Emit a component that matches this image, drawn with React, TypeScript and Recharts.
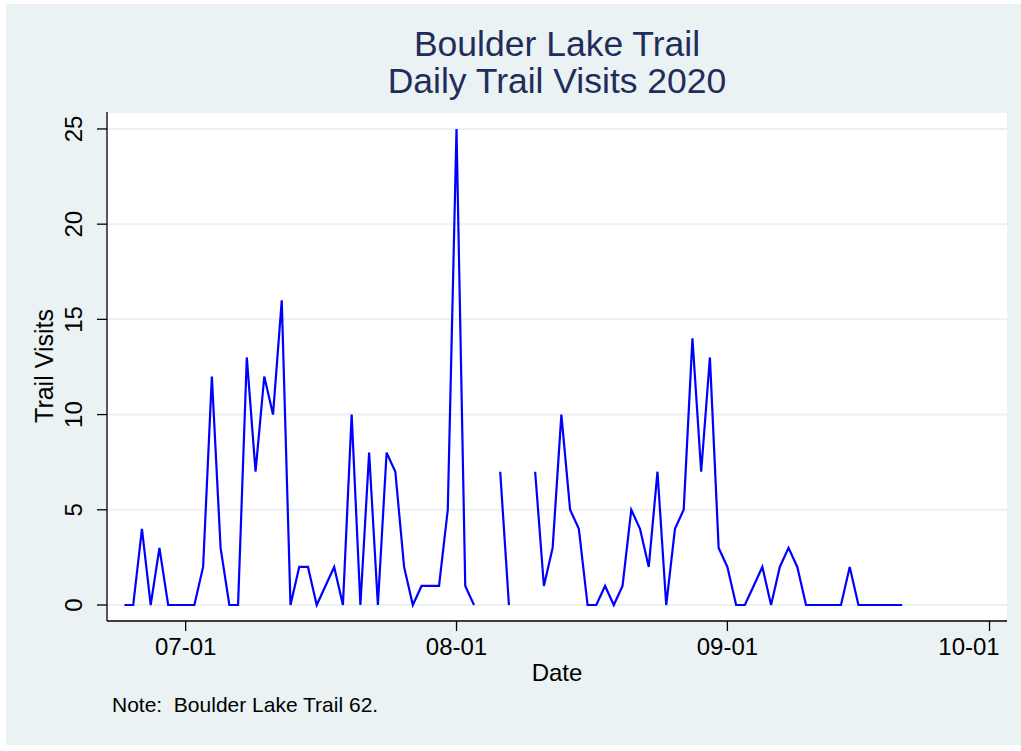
import React from 'react';
import { LineChart, Line, XAxis, YAxis, CartesianGrid } from 'recharts';

const DAY = 86400000;
const FONT = '"Liberation Sans", Arial, Helvetica, sans-serif';

// daily series starts 2020-06-24, null = no count that day
const firstDate = '2020-06-24';
const visits: (number | null)[] = [
    0, 0, 4, 0, 3, 0, 0,
    0, 0, 2, 12, 3, 0, 0, 13, 7, 12, 10, 16, 0, 2, 2, 0, 1, 2, 0, 10, 0, 8, 0, 8, 7, 2, 0, 1, 1, 1, 5,
    25, 1, 0, null, null, 7, 0, null, null, 7, 1, 3, 10, 5, 4, 0, 0, 1, 0, 1, 5, 4, 2, 7, 0, 4, 5, 14, 7, 13,
    3, 2, 0, 0, 1, 2, 0, 2, 3, 2, 0, 0, 0, 0, 0, 2, 0, 0, 0, 0, 0, 0
];

const xTickDates = ['2020-07-01', '2020-08-01', '2020-09-01', '2020-10-01'];
const xDomainDates = ['2020-06-22', '2020-10-03'];
const yTicks = [0, 5, 10, 15, 20, 25];
const titleLines = ['Boulder Lake Trail', 'Daily Trail Visits 2020'];
const xLabel = 'Date';
const yLabel = 'Trail Visits';
const noteText = 'Note:  Boulder Lake Trail 62.';

const toTs = (s: string) => Date.parse(s + 'T00:00:00Z');

const start = toTs(firstDate);
const data = visits.map((v, i) => ({ date: start + i * DAY, visits: v }));

const fmtDate = (ts: number) => {
    const d = new Date(ts);
    const mm = String(d.getUTCMonth() + 1).padStart(2, '0');
    const dd = String(d.getUTCDate()).padStart(2, '0');
    return `${mm}-${dd}`;
};

const XTick = ({ x, y, payload }: any) => (
    <text x={x} y={y + 24} textAnchor="middle" fontSize={24} fontFamily={FONT} fill="#000">
        {fmtDate(payload.value)}
    </text>
);

const YTick = ({ x, y, payload }: any) => (
    <text
        x={x - 15}
        y={y}
        textAnchor="middle"
        fontSize={24}
        fontFamily={FONT}
        fill="#000"
        transform={`rotate(-90, ${x - 15}, ${y})`}
    >
        {payload.value}
    </text>
);

const W = 1015;
const H = 741;

export default function App() {
    return (
        <div style={{ position: 'absolute', left: 0, top: 0, width: 1021, height: 751, background: '#fff' }}>
            <div style={{ position: 'absolute', left: 6, top: 4, width: W, height: H, background: '#EAF2F3' }}>
                <LineChart
                    width={W}
                    height={H}
                    data={data}
                    margin={{ top: 108, right: 14, bottom: 94, left: 0 }}
                >
                    <CartesianGrid horizontal vertical={false} stroke="#EAF2F3" strokeWidth={2} fill="#ffffff" />
                    <XAxis
                        dataKey="date"
                        type="number"
                        scale="time"
                        domain={xDomainDates.map(toTs)}
                        ticks={xTickDates.map(toTs)}
                        allowDataOverflow
                        height={30}
                        tickSize={10}
                        tickMargin={0}
                        axisLine={{ stroke: '#000', strokeWidth: 1.3 }}
                        tickLine={{ stroke: '#000', strokeWidth: 1.3 }}
                        tick={<XTick />}
                    />
                    <YAxis
                        type="number"
                        domain={[-0.84, 25.89]}
                        ticks={yTicks}
                        allowDataOverflow
                        width={101}
                        tickSize={10}
                        tickMargin={0}
                        axisLine={{ stroke: '#000', strokeWidth: 1.3 }}
                        tickLine={{ stroke: '#000', strokeWidth: 1.3 }}
                        tick={<YTick />}
                    />
                    <Line
                        type="linear"
                        dataKey="visits"
                        stroke="#0000FF"
                        strokeWidth={2.2}
                        dot={false}
                        activeDot={false}
                        isAnimationActive={false}
                    />
                </LineChart>
                <svg
                    width={W}
                    height={H}
                    style={{ position: 'absolute', left: 0, top: 0, pointerEvents: 'none' }}
                >
                    {titleLines.map((t, i) => (
                        <text
                            key={t}
                            x={551}
                            y={52 + i * 37}
                            textAnchor="middle"
                            fontSize={35.5}
                            fontFamily={FONT}
                            fill="#1F2D5A"
                        >
                            {t}
                        </text>
                    ))}
                    <text x={551} y={677} textAnchor="middle" fontSize={24} fontFamily={FONT} fill="#000">
                        {xLabel}
                    </text>
                    <text
                        x={47}
                        y={362}
                        textAnchor="middle"
                        fontSize={25}
                        fontFamily={FONT}
                        fill="#000"
                        transform="rotate(-90, 47, 362)"
                    >
                        {yLabel}
                    </text>
                    <text x={106} y={708} fontSize={21} fontFamily={FONT} fill="#000" style={{ whiteSpace: 'pre' }}>
                        {noteText}
                    </text>
                </svg>
            </div>
        </div>
    );
}
